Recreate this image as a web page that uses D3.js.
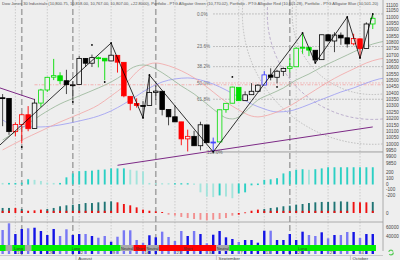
<!DOCTYPE html>
<html>
<head>
<meta charset="utf-8">
<script src="https://cdn.jsdelivr.net/npm/d3@7"></script>
<style>
  body { margin: 0; background: #eeeeee; }
  svg { display: block; font-family: "Liberation Sans", Arial, sans-serif; }
</style>
</head>
<body>
<div id="vis"></div>
<script>
// daily bars, Jul 15 - Oct 6 2010
let dates = ["2010-07-15","2010-07-16","2010-07-19","2010-07-20","2010-07-21","2010-07-22","2010-07-23","2010-07-26","2010-07-27","2010-07-28","2010-07-29","2010-07-30",
  "2010-08-02","2010-08-03","2010-08-04","2010-08-05","2010-08-06","2010-08-09","2010-08-10","2010-08-11","2010-08-12","2010-08-13","2010-08-16","2010-08-17","2010-08-18","2010-08-19","2010-08-20","2010-08-23","2010-08-24","2010-08-25","2010-08-26","2010-08-27","2010-08-30","2010-08-31",
  "2010-09-01","2010-09-02","2010-09-03","2010-09-07","2010-09-08","2010-09-09","2010-09-10","2010-09-13","2010-09-14","2010-09-15","2010-09-16","2010-09-17","2010-09-20","2010-09-21","2010-09-22","2010-09-23","2010-09-24","2010-09-27","2010-09-28","2010-09-29","2010-09-30",
  "2010-10-01","2010-10-04","2010-10-05","2010-10-06"];

let opens = [10364,10359,10097,10154,10230,10121,10322,10425,10526,10537,10498,10465,
  10468,10674,10636,10679,10675,10654,10698,10643,10375,10319,10303,10303,10405,10415,10271,10214,10174,10040,10060,9986,10150,10010,
  10016,10270,10321,10446,10341,10388,10415,10464,10543,10525,10572,10595,10608,10754,10760,10738,10664,10860,10811,10857,10836,
  10789,10828,10752,10945];
let highs = [10393,10359,10171,10238,10298,10355,10434,10529,10670,10565,10584,10494,
  10694,10677,10704,10688,10675,10790,10699,10643,10375,10360,10338,10543,10462,10415,10271,10304,10174,10113,10104,10175,10150,10050,
  10270,10321,10451,10446,10415,10479,10472,10574,10596,10584,10602,10676,10762,10874,10764,10738,10860,10865,10880,10878,11000,
  10868,10831,10958,11024];
let lows = [10140,10072,10060,10004,10100,10121,10291,10410,10503,10471,10393,10349,
  10468,10608,10606,10603,10502,10652,10562,10368,10265,10286,10205,10303,10347,10225,10147,10172,9990,9941,9985,9950,10009,9937,
  10016,10246,10321,10339,10341,10388,10412,10464,10501,10477,10535,10565,10608,10711,10692,10638,10664,10807,10723,10781,10759,
  10777,10677,10752,10905];
let closes = [10359,10097,10154,10230,10120,10322,10425,10525,10538,10498,10467,10466,
  10674,10636,10680,10675,10654,10699,10644,10379,10320,10303,10302,10406,10416,10271,10214,10174,10040,10060,9986,10151,10010,10015,
  10269,10320,10448,10341,10387,10415,10463,10544,10526,10573,10595,10608,10754,10761,10739,10662,10860,10812,10858,10835,10788,
  10830,10751,10945,10990];
// candle colouring state: k plain, g green, r red, b blue
let barTone = ["k","k","r","r","r","k","g","g","g","g","k","k",
  "k","k","k","g","g","k","r","r","r","r","k","k","k","k","k","k","r","r","k","k","k","b",
  "g","g","g","g","k","k","k","b","k","k","k","g","g","g","g","k","k","k","k","k","k",
  "r","r","k","g"];

let volumes = [53300,68200,44400,55600,57100,58400,51100,42200,55600,40000,54900,42200,
  44400,44400,40000,36200,40000,27300,38400,52700,52700,31100,25100,41600,37100,49600,37800,28900,51100,40000,51100,44400,23800,42900,
  51100,37100,33300,26700,31100,31100,25100,51800,51800,31100,31100,44400,31100,49600,42200,40000,48200,34900,42200,42200,48900,
  48900,35600,44400,44400];

let cyanOsc = [10,10,10,15,75,65,45,15,10,10,110,180,
  220,225,230,245,250,270,270,270,245,230,215,10,8,6,5,5,5,5,-5,-140,-215,-225,
  -195,-215,-245,-160,-140,-15,-10,65,75,95,180,215,245,255,245,255,270,290,290,290,290,
  290,290,290,290];

let histOsc = [42,42,42,33,19,22,28,33,42,56,64,69,
  75,83,83,89,94,97,89,75,64,47,28,19,14,8,-14,-22,-33,-42,-50,-56,-61,-56,
  -50,-42,-22,-14,5,19,28,33,42,47,56,61,69,75,83,89,92,92,94,97,94,
  92,89,89,92];
let histTone = ["t","t","r","t","r","r","r","t","t","t","t","t",
  "t","t","t","t","t","t","r","r","r","r","r","r","r","r","p","p","p","p","p","p","p","p",
  "p","p","p","r","r","r","r","t","t","t","t","t","t","t","t","t","t","t","t","t","t",
  "r","r","r","t"];

let trend = ["L","N","L","L","N","L","L","L","L","L","L","L",
  "L","L","L","L","L","L","L","N","N","S","S","N","N","S","S","S","S","S","S","S","S","S",
  "N","N","L","L","L","L","L","L","L","L","L","L","L","L","L","L","L","L","L","L","L",
  "L","L","L","L"];
let trendNames = {L: "Long", S: "Short", N: "Neutral"};

// alligator lines, read at bar positions
let lipsAt = [0,3,6,9,12,15,17,19,20,21,22,23,24,26,28,30,32,34,35,36,37,38,40,42,44,46,48,50,52,54,56,58,60];
let lips = [10031,10126,10228,10315,10378,10441,10488,10551,10591,10614,10622,10614,10591,10528,10457,10394,10315,10236,10205,10197,10213,10252,10346,10394,10441,10504,10551,10606,10654,10701,10748,10787,10811];
let teethAt = [0,3,6,9,12,15,17,19,20,21,22,23,24,25,27,29,31,33,35,37,39,40,41,43,45,47,49,51,53,55,57,59,60];
let teeth = [9953,10031,10102,10173,10236,10307,10378,10457,10512,10567,10606,10630,10638,10630,10598,10551,10488,10409,10331,10268,10220,10213,10220,10252,10299,10362,10425,10488,10543,10591,10638,10669,10677];
let jawAt = [0,2,4,6,9,12,15,17,19,21,23,25,27,29,31,33,35,37,39,41,42,43,45,47,49,51,53,55,57,59,60];
let jaw = [10189,10142,10134,10134,10150,10181,10220,10260,10315,10378,10441,10488,10512,10520,10504,10472,10425,10370,10315,10276,10260,10252,10260,10291,10331,10370,10409,10441,10480,10512,10520];

let zigAt = [-1,17,22,23,33,47,49,54,56,58];
let zig = [9965,10795,10205,10543,9937,10874,10638,11000,10677,11024];
let fractalAt = [3,11,14,16,36,43];
let fractal = [9976,10331,10780,10488,10528,10449];

// fibonacci tools: retracement from the Aug 31 low, arcs round the Oct 6 high
let fibLevels = [0, 0.236, 0.382, 0.5, 0.618, 1];
let fibLabels = ["0.0%", "23.6%", "38.2%", "50.0%", "61.8%", "100.0%"];
let fibLowAt = 33, fibLow = 9937, fibHighAt = 58, fibHigh = 11024;
let arcLevels = [0.382, 0.5, 0.618];
let timeZoneAt = [3, 11, 24, 45];
let levelAt = 5, level = 10466;
let trendA = {from: [-1, 10451], to: [5, 10350]};
let trendB = {from: [18, 9832], to: [58, 10134]};

let priceTicks = d3.range(9850, 11101, 50);
let cyanTicks = [200, 100, 0, -100, -200];
let volTicks = [60000, 40000];

let title = "Dow Jones 30 Industrials (10,800.75, 10,818.00, 10,767.00, 10,807.00, +22.8000), Portfolio - PTG Alligator Green (10,770.02), Portfolio - PTG Alligator Red (10,601.28), Portfolio - PTG Alligator Blue (10,501.20)";

let width = 400, height = 260, axisX = 383;
let bg = "#eeeeee";
let toneColor = {k: "#000000", g: "#00dd00", r: "#ff0000", b: "#3333ff"};
let histColor = {t: "#1f7474", r: "#ee1111", p: "#f29090"};
let bandColor = {L: "#00ee00", S: "#ff0000", N: "#a8a8a8"};

let parse = d3.timeParse("%Y-%m-%d");
let days = dates.map(parse);
let idx = d3.range(dates.length);

let x = d3.scaleLinear().domain([1, 56]).range([9, 360]);
let step = x(1) - x(0);
let yPrice = d3.scaleLinear().domain([9850, 11100]).range([163, 4.3]);
let yCyan = d3.scaleLinear().domain([-200, 200]).range([195.2, 172.8]);
let yHist = d3.scaleLinear().domain([0, 100]).range([213, 201]);
let yVol = d3.scaleLinear().domain([0, 60000]).range([254, 227]);

let svg = d3.select("#vis").append("svg")
  .attr("width", width).attr("height", height);

svg.append("rect").attr("width", width).attr("height", height).attr("fill", bg);

svg.append("clipPath").attr("id", "mainClip")
  .append("rect").attr("x", 0).attr("y", 0).attr("width", axisX).attr("height", 170);
svg.append("clipPath").attr("id", "plotClip")
  .append("rect").attr("x", 0).attr("y", 0).attr("width", axisX).attr("height", height);

// week starts -> grid
let weekStarts = idx.filter(k => k > 0 && days[k].getDay() < days[k - 1].getDay());
let monthStarts = idx.filter(k => k > 0 && days[k].getMonth() != days[k - 1].getMonth());

let grid = svg.append("g").attr("clip-path", "url(#plotClip)");
grid.selectAll("line.week")
  .data(weekStarts)
  .join("line")
  .attr("class", "week")
  .attr("x1", k => x(k)).attr("x2", k => x(k))
  .attr("y1", 0).attr("y2", 255)
  .attr("stroke", "#b4b4b4").attr("stroke-width", 0.6)
  .attr("stroke-dasharray", "1.5,1.5");

grid.selectAll("line.zone")
  .data(timeZoneAt)
  .join("line")
  .attr("class", "zone")
  .attr("x1", k => x(k)).attr("x2", k => x(k))
  .attr("y1", 0).attr("y2", 255)
  .attr("stroke", "#a6a6a6").attr("stroke-width", 1.6)
  .attr("stroke-dasharray", "6,3");

// title
svg.append("text")
  .attr("x", 2).attr("y", 5.4)
  .attr("font-size", 3.8)
  .attr("fill", "#555")
  .attr("textLength", 376)
  .attr("lengthAdjust", "spacingAndGlyphs")
  .text(title);

let main = svg.append("g").attr("clip-path", "url(#mainClip)");

// fibonacci arcs
let cx = x(fibHighAt), cy = yPrice(fibHigh);
let span = Math.hypot(x(fibLowAt) - cx, yPrice(fibLow) - cy);
main.selectAll("circle.arc")
  .data(arcLevels)
  .join("circle")
  .attr("class", "arc")
  .attr("cx", cx).attr("cy", cy)
  .attr("r", f => span * f)
  .attr("fill", "none")
  .attr("stroke", f => f == 0.5 ? "#a592bd" : "#a8a8a8")
  .attr("stroke-width", 0.7)
  .attr("stroke-dasharray", f => f == 0.5 ? "3,2" : "1.5,1.5");

// fibonacci retracement
let fibPrice = f => fibHigh - (fibHigh - fibLow) * f;
main.selectAll("line.fib")
  .data(fibLevels)
  .join("line")
  .attr("class", "fib")
  .attr("x1", x(fibLowAt)).attr("x2", axisX)
  .attr("y1", f => yPrice(fibPrice(f))).attr("y2", f => yPrice(fibPrice(f)))
  .attr("stroke", f => f == 0.5 ? "#f09a9a" : (f == 1 ? "#8a8a8a" : "#9a9a9a"))
  .attr("stroke-width", f => f == 1 ? 0.8 : 0.7)
  .attr("stroke-dasharray", f => f == 1 ? null : "1.5,1.5");
main.selectAll("text.fib")
  .data(fibLevels)
  .join("text")
  .attr("class", "fib")
  .attr("x", f => f == 1 ? 207 : 197)
  .attr("y", f => yPrice(fibPrice(f)) + 1.6)
  .attr("font-size", 4.6)
  .attr("fill", "#666")
  .text((f, i) => fibLabels[i]);

// horizontal level
main.append("line")
  .attr("x1", x(levelAt)).attr("x2", axisX)
  .attr("y1", yPrice(level)).attr("y2", yPrice(level))
  .attr("stroke", "#f2a0a0").attr("stroke-width", 0.8)
  .attr("stroke-dasharray", "3,1.5,1,1.5");

// alligator
let priceLine = d3.line()
  .x(d => x(d[0])).y(d => yPrice(d[1]))
  .curve(d3.curveMonotoneX);
main.append("path").datum(d3.zip(jawAt, jaw))
  .attr("d", priceLine).attr("fill", "none")
  .attr("stroke", "#9a9af2").attr("stroke-width", 0.8);
main.append("path").datum(d3.zip(teethAt, teeth))
  .attr("d", priceLine).attr("fill", "none")
  .attr("stroke", "#f2a4a4").attr("stroke-width", 0.8);
main.append("path").datum(d3.zip(lipsAt, lips))
  .attr("d", priceLine).attr("fill", "none")
  .attr("stroke", "#96b496").attr("stroke-width", 0.8);

// trend lines
for (let t of [trendA, trendB]) {
  main.append("line")
    .attr("x1", x(t.from[0])).attr("y1", yPrice(t.from[1]))
    .attr("x2", x(t.to[0])).attr("y2", yPrice(t.to[1]))
    .attr("stroke", "#7d2a86").attr("stroke-width", 1);
}

// candles
let bodyW = step * 0.72;
let candles = main.append("g")
  .selectAll("g")
  .data(idx)
  .join("g");
candles.append("line")
  .attr("x1", k => x(k)).attr("x2", k => x(k))
  .attr("y1", k => yPrice(highs[k])).attr("y2", k => yPrice(lows[k]))
  .attr("stroke", k => barTone[k] == "k" ? "#333" : toneColor[barTone[k]])
  .attr("stroke-width", 0.9);
candles.append("rect")
  .attr("x", k => x(k) - bodyW / 2)
  .attr("width", bodyW)
  .attr("y", k => yPrice(Math.max(opens[k], closes[k])))
  .attr("height", k => Math.max(0.9, Math.abs(yPrice(opens[k]) - yPrice(closes[k]))))
  .attr("fill", k => closes[k] >= opens[k] ? bg : toneColor[barTone[k]])
  .attr("stroke", k => toneColor[barTone[k]])
  .attr("stroke-width", 0.8);

// zigzag
let zigLine = d3.line().x(d => x(d[0])).y(d => yPrice(d[1]));
main.append("path").datum(d3.zip(zigAt, zig))
  .attr("d", zigLine).attr("fill", "none")
  .attr("stroke", "#000").attr("stroke-width", 0.8);
main.selectAll("circle.dot")
  .data(d3.zip(zigAt, zig).slice(1).concat(d3.zip(fractalAt, fractal)))
  .join("circle")
  .attr("class", "dot")
  .attr("cx", d => x(d[0])).attr("cy", d => yPrice(d[1]))
  .attr("r", 0.9).attr("fill", "#000");

// oscillator panel
let barW = 1.9;
svg.append("g")
  .selectAll("rect")
  .data(idx)
  .join("rect")
  .attr("x", k => x(k) - barW / 2)
  .attr("width", barW)
  .attr("y", k => Math.min(yCyan(0), yCyan(cyanOsc[k])) - 0.5)
  .attr("height", k => Math.abs(yCyan(cyanOsc[k]) - yCyan(0)) + 1)
  .attr("fill", k => k > 0 && cyanOsc[k] >= cyanOsc[k - 1] ? "#2bd0c4" : "#a4e4dc");

let hist = svg.append("g");
hist.selectAll("rect.bar")
  .data(idx)
  .join("rect")
  .attr("class", "bar")
  .attr("x", k => x(k) - barW / 2)
  .attr("width", barW)
  .attr("y", k => Math.min(yHist(0), yHist(histOsc[k])))
  .attr("height", k => Math.max(0.8, Math.abs(yHist(histOsc[k]) - yHist(0))))
  .attr("fill", k => histColor[histTone[k]]);
hist.selectAll("rect.base")
  .data(idx.filter(k => histTone[k] == "t" && histOsc[k] > 0))
  .join("rect")
  .attr("class", "base")
  .attr("x", k => x(k) - barW / 2)
  .attr("width", barW)
  .attr("y", yHist(0) - 2.2)
  .attr("height", 2.2)
  .attr("fill", "#ee1111");

svg.append("line")
  .attr("x1", 0).attr("x2", axisX)
  .attr("y1", 222).attr("y2", 222)
  .attr("stroke", "#9a9a9a").attr("stroke-width", 0.8);

// volume
svg.append("g")
  .selectAll("rect")
  .data(idx)
  .join("rect")
  .attr("x", k => x(k) - 1.2)
  .attr("width", 2.4)
  .attr("y", k => yVol(volumes[k]))
  .attr("height", k => yVol(0) - yVol(volumes[k]))
  .attr("fill", k => closes[k] >= opens[k] ? "#1414e6" : "#7878f4");

// trend band
let segs = [];
for (let k of idx) {
  let last = segs[segs.length - 1];
  if (last && last.state == trend[k]) last.end = k;
  else segs.push({state: trend[k], start: k, end: k});
}
let band = svg.append("g").attr("clip-path", "url(#plotClip)");
band.selectAll("rect")
  .data(segs)
  .join("rect")
  .attr("x", d => x(d.start) - step / 2)
  .attr("width", d => (d.end - d.start + 1) * step)
  .attr("y", 245).attr("height", 6)
  .attr("fill", d => bandColor[d.state]);
band.selectAll("text")
  .data(segs.filter(d => d.end > d.start))
  .join("text")
  .attr("x", d => (x(d.start) + x(d.end)) / 2)
  .attr("y", 249.6)
  .attr("text-anchor", "middle")
  .attr("font-size", 3.8)
  .attr("fill", "#333")
  .text(d => trendNames[d.state]);

// date axis
svg.append("line")
  .attr("x1", 0).attr("x2", axisX)
  .attr("y1", 255.5).attr("y2", 255.5)
  .attr("stroke", "#b0b0b0").attr("stroke-width", 0.6);
svg.append("g")
  .selectAll("text")
  .data(weekStarts)
  .join("text")
  .attr("x", k => x(k) + 1.6)
  .attr("y", 254.4)
  .attr("font-size", 4.4)
  .attr("fill", "#444")
  .text(k => d3.timeFormat("%-d")(days[k]));
let months = svg.append("g");
months.selectAll("line")
  .data(monthStarts)
  .join("line")
  .attr("x1", k => x(k) - step / 2).attr("x2", k => x(k) - step / 2)
  .attr("y1", 255.5).attr("y2", 260)
  .attr("stroke", "#b0b0b0").attr("stroke-width", 0.6);
months.selectAll("text")
  .data(monthStarts)
  .join("text")
  .attr("x", k => x(k) - 1)
  .attr("y", 259.6)
  .attr("font-size", 4.4)
  .attr("fill", "#444")
  .text(k => d3.timeFormat("%B")(days[k]));

// right axis
svg.append("line")
  .attr("x1", axisX).attr("x2", axisX)
  .attr("y1", 0).attr("y2", 251)
  .attr("stroke", "#9a9a9a").attr("stroke-width", 0.8);
let axisText = (vals, scale, fmt) => svg.append("g")
  .selectAll("text")
  .data(vals)
  .join("text")
  .attr("x", 386)
  .attr("y", v => scale(v) + 1.6)
  .attr("font-size", 4.6)
  .attr("fill", "#444")
  .text(fmt);
axisText(priceTicks.filter(v => v < 11100), yPrice, v => v);
axisText([11100], v => yPrice(v) + 0.6, v => v);
axisText(cyanTicks, yCyan, v => v);
axisText([0], yHist, v => v);
axisText(volTicks, yVol, v => v);

// refresh icon
svg.append("circle")
  .attr("cx", 391).attr("cy", 252.5).attr("r", 2.3)
  .attr("fill", "none").attr("stroke", "#55cc55").attr("stroke-width", 1.2)
  .attr("stroke-dasharray", "5,2");
</script>
</body>
</html>
